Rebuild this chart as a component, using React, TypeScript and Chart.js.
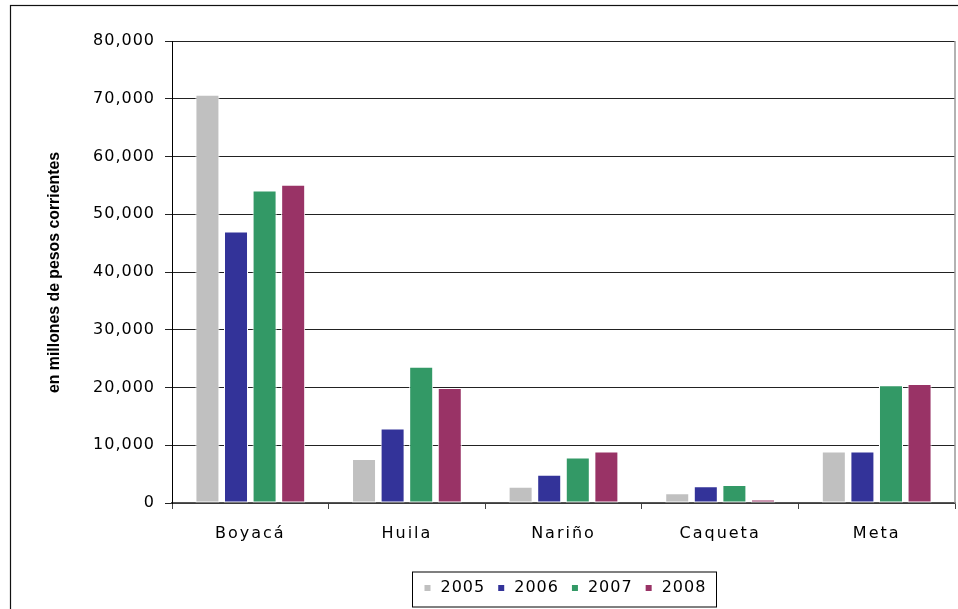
import React, { useEffect, useRef } from 'react';
import { Chart, registerables } from 'chart.js';

Chart.register(...registerables);

const categories = ['Boyacá', 'Huila', 'Nariño', 'Caqueta', 'Meta'];
const seriesLabels = ['2005', '2006', '2007', '2008'];
const values2005 = [70700, 7600, 2800, 1700, 8900];
const values2006 = [47000, 12900, 4900, 2900, 8900];
const values2007 = [54100, 23600, 7900, 3100, 20400];
const values2008 = [55100, 19900, 8900, 600, 20600];
const seriesColors = ['#C0C0C0', '#333399', '#339966', '#993366'];
const yMin = 0;
const yMax = 80000;
const yStep = 10000;
const yTitle = 'en millones de pesos corrientes';

export default function App() {
  const ref = useRef<HTMLCanvasElement>(null);

  useEffect(() => {
    const canvas = ref.current;
    if (!canvas) return;
    const seriesValues = [values2005, values2006, values2007, values2008];

    const customPlugin = {
      id: 'customDecor',
      beforeDraw(chart: any) {
        const ctx = chart.ctx;
        ctx.save();
        ctx.fillStyle = '#ffffff';
        ctx.fillRect(0, 0, chart.width, chart.height);
        ctx.restore();
      },
      afterLayout(chart: any) {
        const pairs: [any, string][] = [
          [chart.scales.x, '2px'],
          [chart.scales.y, '1px'],
        ];
        pairs.forEach(([s, sp]) => {
          if (s && !s._lsPatched) {
            const orig = s.drawLabels.bind(s);
            s.drawLabels = (ca: any) => {
              const c = chart.ctx;
              const prev = c.letterSpacing;
              c.letterSpacing = sp;
              orig(ca);
              c.letterSpacing = prev;
            };
            s._lsPatched = true;
          }
        });
      },
      afterDraw(chart: any) {
        const ctx = chart.ctx;
        const ca = chart.chartArea;
        ctx.save();
        // outer frame
        ctx.strokeStyle = '#111';
        ctx.lineWidth = 1.2;
        ctx.strokeRect(10.5, 5.5, 1000, 1000);
        // plot area right border
        ctx.strokeStyle = '#999';
        ctx.lineWidth = 1.5;
        ctx.beginPath();
        ctx.moveTo(ca.right, ca.top);
        ctx.lineTo(ca.right, ca.bottom);
        ctx.stroke();

        // y title
        ctx.save();
        ctx.font = 'bold 16px "Liberation Sans", Arial, sans-serif';
        ctx.fillStyle = '#000';
        ctx.textAlign = 'center';
        ctx.textBaseline = 'middle';
        const tw = ctx.measureText(yTitle).width;
        ctx.translate(55, (ca.top + ca.bottom) / 2 + 0.5);
        ctx.rotate(-Math.PI / 2);
        ctx.scale(241 / tw, 1);
        ctx.fillText(yTitle, 0, 0);
        ctx.restore();

        // legend
        ctx.font = '16px "DejaVu Sans", sans-serif';
        ctx.letterSpacing = '1px';
        const widths = seriesLabels.map((t) => ctx.measureText(t).width);
        const sq = 6;
        const gapText = 10;
        const gapItem = 13;
        let total = 0;
        widths.forEach((w, i) => {
          total += sq + gapText + w + (i < widths.length - 1 ? gapItem : 0);
        });
        const padL = 12;
        const padR = 10;
        const boxW = total + padL + padR;
        const cx = (ca.left + ca.right) / 2;
        const left = Math.round(cx - boxW / 2) + 0.5;
        const cy = ca.bottom + 85;
        ctx.strokeStyle = '#000';
        ctx.lineWidth = 1;
        ctx.strokeRect(left, cy - 16, Math.round(boxW), 35);
        let x = left + padL;
        ctx.textAlign = 'left';
        ctx.textBaseline = 'middle';
        seriesLabels.forEach((t, i) => {
          ctx.fillStyle = seriesColors[i];
          ctx.fillRect(x, cy - 3, sq, sq);
          x += sq + gapText;
          ctx.fillStyle = '#000';
          ctx.fillText(t, x, cy);
          x += widths[i] + gapItem;
        });
        ctx.restore();
      },
    };

    const chart = new Chart(canvas, {
      type: 'bar',
      data: {
        labels: categories,
        datasets: seriesLabels.map((label, i) => ({
          label,
          data: seriesValues[i],
          backgroundColor: seriesColors[i],
          borderColor: '#ffffff',
          borderWidth: 1,
          borderSkipped: false,
          categoryPercentage: 0.73,
          barPercentage: 0.84,
        })),
      },
      options: {
        animation: false,
        responsive: false,
        devicePixelRatio: 1,
        layout: { padding: { left: 0, right: 3, top: 41, bottom: 0 } },
        plugins: {
          legend: { display: false },
          tooltip: { enabled: false },
        },
        scales: {
          x: {
            grid: {
              display: true,
              drawOnChartArea: false,
              drawTicks: true,
              tickLength: 6,
              color: '#444',
              offset: true,
            },
            border: { display: true, color: '#555', width: 1.5 },
            ticks: {
              color: '#000',
              padding: 15,
              font: { family: '"DejaVu Sans", sans-serif', size: 16 },
            },
            afterFit(scale: any) {
              scale.height = 106;
            },
          },
          y: {
            min: yMin,
            max: yMax,
            grid: {
              color: '#222',
              lineWidth: 1,
              drawTicks: true,
              tickLength: 7,
            },
            border: { display: true, color: '#000', width: 1 },
            ticks: {
              stepSize: yStep,
              color: '#000',
              padding: 10,
              font: { family: '"DejaVu Sans", sans-serif', size: 16 },
              callback: (v: any) => Number(v).toLocaleString('en-US'),
            },
            afterFit(scale: any) {
              scale.width = 172;
            },
          },
        },
      },
      plugins: [customPlugin],
    } as any);

    return () => {
      chart.destroy();
    };
  }, []);

  return (
    <div style={{ position: 'fixed', left: 0, top: 0, width: 958, height: 609, background: '#fff' }}>
      <canvas ref={ref} width={958} height={609} style={{ display: 'block', width: 958, height: 609 }} />
    </div>
  );
}
